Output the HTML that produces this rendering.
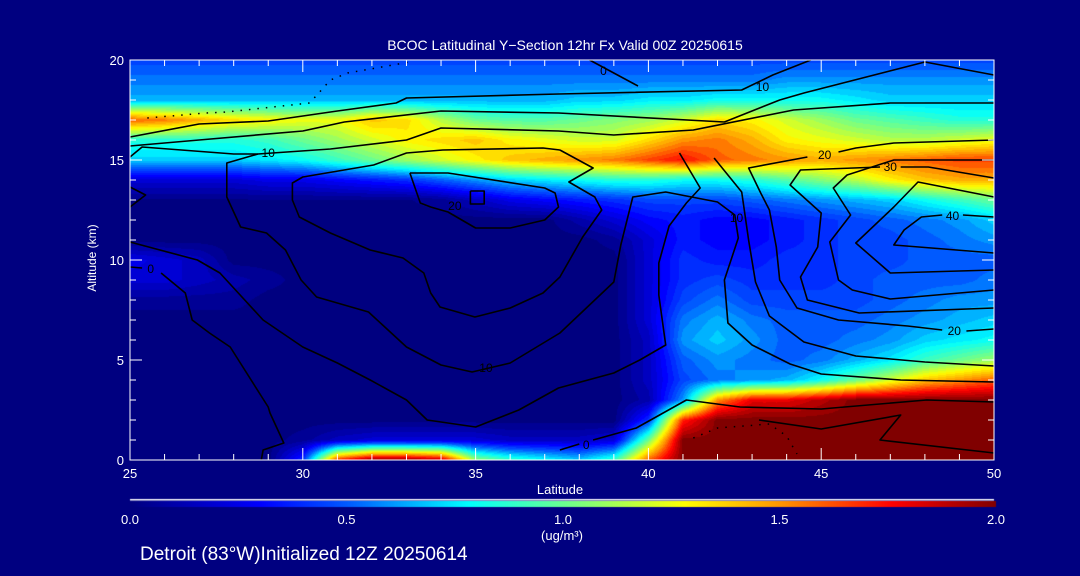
<!DOCTYPE html>
<html><head><meta charset="utf-8">
<style>
html,body{margin:0;padding:0;background:#000080;}
#wrap{position:relative;width:1080px;height:576px;background:#000080;overflow:hidden;font-family:"Liberation Sans",sans-serif;color:#fff;}
canvas{position:absolute;left:0;top:0;}
svg{position:absolute;left:0;top:0;}
</style></head>
<body>
<div id="wrap">
<canvas id="heat" width="1080" height="576"></canvas>
<svg id="svg" width="1080" height="576"></svg>
</div>
<script>
// ---- data ----
const lats = [25,26,27,28,29,30,31,32,33,34,35,36,37,38,39,40,41,42,43,44,45,46,47,48,49,50];
const alts = [0,1,2,3,4,5,6,7,8,9,10,11,12,13,14,15,16,17,18,19,20];
const a0 =[0,0,0,0,0,0.4,1.7,2,2,1.9,1.1,0.9,0.8,0.7,0.9,1.6,2,2,2,2,2,2,2,2,2,2];
const a1 =[0,0,0,0,0,0.05,0.15,0.2,0.2,0.2,0.2,0.15,0.15,0.15,0.2,1.0,2,2,2,2,2,2,2,2,2,2];
const a2 =[0,0,0,0,0,0,0,0,0,0,0,0,0,0,0,0.4,1.7,2,2,2,2,2,2,2,2,2];
const a3 =[0,0,0,0,0,0,0,0,0,0,0,0,0,0,0,0.1,0.6,1.5,1.8,1.8,1.9,2,2,2,2,2];
const a4 =[0,0,0,0,0,0,0,0,0,0,0,0,0,0,0,0.15,0.45,0.55,0.6,0.65,0.8,1.0,1.2,1.4,1.5,1.6];
const a5 =[0,0,0,0,0,0,0,0,0,0,0,0,0,0,0,0.15,0.5,0.6,0.55,0.5,0.55,0.65,0.75,0.9,1.0,1.1];
const a6 =[0,0,0,0,0,0,0,0,0,0,0,0,0,0,0,0.15,0.6,0.7,0.6,0.5,0.5,0.55,0.6,0.7,0.75,0.8];
const a7 =[0,0,0,0,0,0,0,0,0,0,0,0,0,0,0,0.2,0.55,0.65,0.55,0.5,0.5,0.5,0.55,0.6,0.65,0.7];
const a8 =[0.05,0.05,0.05,0.05,0,0,0,0,0,0,0,0,0,0,0,0.2,0.45,0.55,0.45,0.45,0.45,0.45,0.5,0.55,0.6,0.6];
const a9 =[0.2,0.2,0.15,0.1,0.05,0,0,0,0,0,0,0,0,0,0,0.2,0.4,0.45,0.4,0.4,0.4,0.45,0.5,0.5,0.5,0.55];
const a10=[0.25,0.2,0.15,0,0,0,0,0,0,0,0,0,0,0,0,0.2,0.4,0.35,0.35,0.4,0.4,0.45,0.45,0.5,0.5,0.5];
const a11=[0,0,0,0,0,0,0,0,0,0,0,0,0,0,0.05,0.2,0.35,0.3,0.3,0.35,0.4,0.45,0.45,0.5,0.55,0.6];
const a12=[0,0,0,0,0,0,0,0,0,0,0,0,0,0.1,0.2,0.3,0.35,0.3,0.3,0.35,0.4,0.45,0.5,0.55,0.6,0.7];
const a13=[0.02,0.02,0.02,0.02,0.02,0.02,0.02,0.02,0.02,0.05,0.15,0.25,0.3,0.35,0.4,0.45,0.45,0.45,0.5,0.55,0.6,0.65,0.7,0.8,0.9,1.0];
const a14=[0.2,0.2,0.2,0.2,0.25,0.25,0.3,0.35,0.4,0.5,0.6,0.7,0.75,0.8,0.85,0.85,0.8,0.8,0.85,0.95,1.05,1.15,1.3,1.4,1.45,1.45];
const a15=[0.7,0.7,0.7,0.7,0.75,0.8,0.9,1.0,1.1,1.2,1.3,1.4,1.45,1.5,1.55,1.65,1.75,1.6,1.55,1.5,1.45,1.5,1.55,1.6,1.65,1.65];
const a16=[0.85,0.85,0.85,0.85,0.9,1.0,1.1,1.2,1.3,1.35,1.4,1.3,1.25,1.2,1.2,1.35,1.5,1.55,1.45,1.3,1.25,1.2,1.15,1.15,1.2,1.25];
const a17=[1.6,1.55,1.45,1.35,1.3,1.25,1.25,1.4,1.35,1.15,1.0,0.95,0.95,1.0,1.05,1.1,1.2,1.35,1.3,1.2,1.1,1.0,0.95,0.9,0.85,0.85];
const a18=[0.65,0.65,0.65,0.65,0.65,0.65,0.65,0.65,0.65,0.65,0.65,0.65,0.65,0.7,0.7,0.75,0.75,0.8,0.8,0.8,0.8,0.75,0.7,0.7,0.7,0.7];
const a19=[0.55,0.55,0.55,0.55,0.55,0.55,0.55,0.55,0.55,0.55,0.55,0.55,0.55,0.55,0.55,0.55,0.55,0.55,0.55,0.6,0.6,0.6,0.6,0.6,0.6,0.6];
const a20=[0.45,0.45,0.45,0.45,0.45,0.45,0.45,0.45,0.45,0.45,0.45,0.45,0.45,0.45,0.45,0.45,0.45,0.45,0.45,0.45,0.45,0.45,0.45,0.45,0.45,0.45];
const grid=[a0,a1,a2,a3,a4,a5,a6,a7,a8,a9,a10,a11,a12,a13,a14,a15,a16,a17,a18,a19,a20];

const xTicks=[25,30,35,40,45,50];
const yTicks=[0,5,10,15,20];
const cbTicks=[0.0,0.5,1.0,1.5,2.0];

const cA=[[25,16.15],[27,16.8],[29,16.95],[31,17.45],[32.7,17.85],[33,18.1],[37.4,18.3],[42.7,18.5],[43.6,19.25],[44.7,20]];
const cB=[[25,15.7],[27,16],[30,16.45],[31.2,16.9],[34,17.45],[37.4,17.35],[42.2,16.9],[43.8,18],[44.5,18.35],[48,19.9],[50,19.25]];
const cC=[[25,15.15],[25.35,15.65],[28,15.3],[28.7,15.3],[30.8,15.55],[33,16],[34,16.6],[37.4,16.45],[39,16.25],[41.3,16.5],[44.2,17.5],[47,17.85],[50,17.85]];
const cLoop=[[37.44,15.5],[38.4,14.6],[37.7,13.9],[38.45,13.15],[38.65,12.5],[38.1,11.15],[37.44,9.15],[36.95,8.35],[36,7.6],[34.98,7.15],[33.97,7.65],[33.7,8.35],[33.5,9.35],[32.9,10.1],[31.95,10.5],[30.8,11.35],[29.9,12.15],[29.7,13],[29.7,13.85],[30,14.15],[32.05,14.75],[33,15.35],[34.05,15.5],[36.95,15.6],[37.44,15.5]];
const cIn20=[[33.1,14.35],[33.4,12.85],[33.7,12.65],[34.2,12.4],[35,11.6],[36,11.6],[37,12],[37.4,12.65],[37.3,13.35],[37,13.6],[34.2,14.35],[33.1,14.35]];
const cBig10=[[28.7,15.3],[27.8,14.85],[27.8,13.15],[28.2,11.65],[28.95,11.35],[29.5,10.5],[29.95,9],[30.4,8.15],[31.9,7.4],[33,5.65],[34,4.75],[34.9,4.4],[36,4.85],[37.44,6.35],[39,8.9],[39.2,10.75],[39.55,13.15],[40.5,13.4],[42,12.9],[42.5,12.25],[42.6,11.1],[42.2,9],[42.3,6.85],[43,5.75],[44.1,4.8],[45,4.3],[47.3,4.0],[50,3.9]];
const cLow=[[25,10.9],[26.95,10],[27.6,9.35],[28.85,7],[30,5.65],[31,4.85],[31.95,4],[33,3],[33.6,2],[35,1.65],[36.25,2.5],[37.4,3.6],[39,4.35],[39.75,5],[40.5,5.75],[40.3,8.25],[40.3,9.85],[40.6,11.7],[41.1,12.85],[41.5,13.6],[40.9,15.35]];
const cN2=[[41.9,15.1],[42.7,13.4],[42.9,11],[43.1,8.9],[43.5,7.2],[44.5,5.9],[46,5.2],[48,4.9],[50,4.7]];
const cN3=[[44.6,15.15],[42.9,14.6],[43.25,13.35],[43.5,12.5],[43.7,10.65],[43.8,9],[44.3,7.6],[45.5,7],[47.5,6.7],[48.5,6.5]];
const cN3b=[[49.2,6.45],[50,6.55]];
const cN3top=[[45.5,15.4],[46,15.6],[47.1,15.85],[50,16]];
const cN4=[[46.7,14.65],[44.4,14.5],[44.1,13.75],[45,12.35],[44.9,10.65],[44.4,9.15],[44.6,8],[46.1,7.35],[50,7.6]];
const cN4top=[[47.3,14.65],[48.1,14.65],[50,14.1]];
const cN5=[[50,15],[47.1,15],[45.75,14.25],[45.35,13.6],[45.85,12.25],[45.25,10.9],[45.5,9],[45.9,8.5],[47,8.05],[50,8.5]];
const cN6=[[50,13.15],[47.8,13.9],[47.1,12.65],[46,10.85],[47,9.35],[50,9.5]];
const cN7=[[48.5,12.25],[47.9,12.15],[47.4,11.5],[47.1,10.75],[50,10.35]];
const cN7b=[[49.1,12.25],[50,12.15]];
const cZero=[[38.4,1],[39.65,1.6],[41.1,3],[42.65,2.65],[45,2.55],[48.05,3],[50,2.9]];
const cZeroL=[[37.44,0.5],[38.0,0.8]];
const cTop0=[[38.3,20],[39.7,18.7]];
const cLeft0=[[25.9,9.35],[26.6,8.35],[26.8,7],[27.3,6.35],[27.9,5.65],[29,2.65],[29.05,2.35],[29.45,0.85],[28.85,0.5],[28.8,0]];
const cLeft0b=[[25,9.65],[25.35,9.6]];
const cEdge=[[25,13.65],[25.45,13.25],[25,12.65]];
const cRedLoop=[[43.2,2],[45,1.55],[47.3,2.25],[46.7,1],[50,0.35]];
const cBox=[[34.85,13.45],[35.25,13.45],[35.25,12.8],[34.85,12.8],[34.85,13.45]];
const dotTop=[[25.5,17.1],[27.2,17.35],[27.8,17.4],[30.2,17.85],[30.8,19],[31.3,19.35],[33.1,19.9]];
const dotRed=[[41.3,1.1],[42,1.6],[43.5,1.8],[44,1.2],[44.3,0.3]];
const contourLabels=[["10",29.0,15.35],["20",34.4,12.7],["10",35.3,4.6],["0",25.6,9.55],["0",38.2,0.75],["0",38.7,19.45],["10",43.3,18.65],["20",45.1,15.25],["30",47,14.65],["40",48.8,12.2],["20",48.85,6.45],["10",42.55,12.1]];

const X0=130,X1=994,Y0=460,Y1=60;
const sx=lat=>X0+(lat-25)/(50-25)*(X1-X0);
const sy=alt=>Y0-(alt-0)/(20-0)*(Y0-Y1);

const stops=[[0,0,0,128],[0.3,0,0,255],[0.5,0,90,255],[0.78,0,255,255],[1.09,150,255,100],[1.28,255,255,0],[1.5,255,150,0],[1.76,255,0,0],[2.0,128,0,0]];
function cmap(v){
  if(v<=0)return [0,0,128];
  if(v>=2)return [128,0,0];
  for(let i=1;i<stops.length;i++){
    if(v<=stops[i][0]){const a=stops[i-1],b=stops[i],t=(v-a[0])/(b[0]-a[0]);
      return [a[1]+(b[1]-a[1])*t,a[2]+(b[2]-a[2])*t,a[3]+(b[3]-a[3])*t];}
  }
}
const cv=document.getElementById('heat');
const ctx=cv.getContext('2d');
ctx.fillStyle='#000080';ctx.fillRect(0,0,1080,576);
const W=X1-X0,H=Y0-Y1;
const img=ctx.createImageData(W,H);
for(let py=0;py<H;py++){
  const alt=20-(py+0.5)/H*20;
  const ai=Math.min(alts.length-2,Math.floor(alt)),at=alt-alts[ai];
  for(let px=0;px<W;px++){
    const lat=25+(px+0.5)/W*25;
    const li=Math.min(lats.length-2,Math.floor(lat-25)),lt=lat-lats[li];
    const v=(grid[ai][li]*(1-lt)+grid[ai][li+1]*lt)*(1-at)+(grid[ai+1][li]*(1-lt)+grid[ai+1][li+1]*lt)*at;
    const q=Math.round(v*20)/20;
    const c=cmap(q);const k=(py*W+px)*4;
    img.data[k]=c[0];img.data[k+1]=c[1];img.data[k+2]=c[2];img.data[k+3]=255;
  }
}
ctx.putImageData(img,X0,Y1);
for(let px=130;px<996;px++){
  const c=cmap((px-130)/(996-130)*2);
  ctx.fillStyle=`rgb(${c[0]|0},${c[1]|0},${c[2]|0})`;ctx.fillRect(px,501,1,6);
}
ctx.fillStyle='#fff';ctx.fillRect(130,499,864,1.5);

const NS='http://www.w3.org/2000/svg';
const svg=document.getElementById('svg');
function mk(tag,attrs,parent){const e=document.createElementNS(NS,tag);for(const k in attrs)e.setAttribute(k,attrs[k]);(parent||svg).appendChild(e);return e;}
const gC=mk('g',{});


const lines=[cA,cB,cC,cLoop,cIn20,cBig10,cLow,cN2,cN3,cN3b,cN3top,cN4,cN4top,cN5,cN6,cN7,cN7b,cZero,cZeroL,cTop0,cLeft0,cLeft0b,cEdge,cRedLoop,cBox];
lines.forEach((pts,i)=>{
  const p=mk('polyline',{points:pts.map(q=>sx(q[0]).toFixed(1)+','+sy(q[1]).toFixed(1)).join(' '),fill:'none',stroke:'#000','stroke-width':1.6,'stroke-linejoin':'round'},gC);
  
  
});
[dotTop,dotRed].forEach(pts=>{
  const p=mk('polyline',{points:pts.map(q=>sx(q[0]).toFixed(1)+','+sy(q[1]).toFixed(1)).join(' '),fill:'none',stroke:'#000','stroke-width':1.5,'stroke-dasharray':'1.5 7'},gC);
  
  
});
contourLabels.forEach(l=>{
  const t=mk('text',{x:sx(l[1]),y:sy(l[2])+4,'font-size':12,fill:'#000','text-anchor':'middle','font-family':'Liberation Sans, sans-serif'},gC);
  t.textContent=l[0];
  
  
});
const fr=mk('rect',{x:X0,y:Y1,width:X1-X0,height:Y0-Y1,fill:'none',stroke:'#fff','stroke-width':1});


for(let lat=25;lat<=50;lat++){
  const major=lat%5===0,len=major?12:6;
  mk('line',{x1:sx(lat),x2:sx(lat),y1:Y0,y2:Y0-len,stroke:'#fff','stroke-width':1});
  mk('line',{x1:sx(lat),x2:sx(lat),y1:Y1,y2:Y1+len,stroke:'#fff','stroke-width':1});
}
xTicks.forEach(v=>{
  const t=mk('text',{x:sx(v),y:478,'font-size':13,fill:'#fff','text-anchor':'middle'});
  t.textContent=String(v);
  
  
});
for(let a=0;a<=20;a++){
  const len=a%5===0?12:6;
  mk('line',{x1:X0,x2:X0+len,y1:sy(a),y2:sy(a),stroke:'#fff','stroke-width':1});
  mk('line',{x1:X1,x2:X1-len,y1:sy(a),y2:sy(a),stroke:'#fff','stroke-width':1});
}
yTicks.forEach(v=>{
  const t=mk('text',{x:124,y:sy(v)+5,'font-size':13,fill:'#fff','text-anchor':'end'});
  t.textContent=String(v);
  
  
});
cbTicks.forEach(v=>{
  const t=mk('text',{x:130+v/2*866,y:524,'font-size':13,fill:'#fff','text-anchor':'middle'});
  t.textContent=v.toFixed(1);
  
  
});
const texts=[["title","BCOC Latitudinal Y\u2212Section 12hr  Fx Valid 00Z 20250615",565,50,14,"middle"],
 ["x-axis-title","Latitude",560,494,13,"middle"],
 ["colorbar-units","(ug/m\u00B3)",562,540,13,"middle"],
 ["footer-info","Detroit (83\u00B0W)Initialized 12Z 20250614",140,560,19,"start"]];
texts.forEach(d=>{
  const t=mk('text',{x:d[2],y:d[3],'font-size':d[4],fill:'#fff','text-anchor':d[5]});
  t.textContent=d[1];
  
  
});
const yt=mk('text',{x:0,y:0,'font-size':12,fill:'#fff','text-anchor':'middle',transform:'translate(96,258) rotate(-90)'});
yt.textContent='Altitude (km)';


</script>
</body></html>
